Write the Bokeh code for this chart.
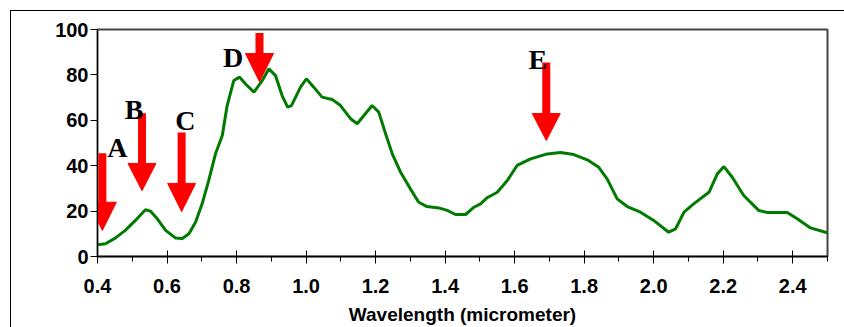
from bokeh.plotting import figure
from bokeh.models import Range1d, FixedTicker, NumeralTickFormatter
from bokeh.core.properties import value
from bokeh.embed import file_html
from bokeh.resources import INLINE

# spectral curve (wavelength in micrometer, percent)
wavelength = [0.400, 0.423, 0.452, 0.480, 0.509, 0.538, 0.552, 0.572, 0.596, 0.624,
              0.644, 0.663, 0.682, 0.701, 0.720, 0.740, 0.759, 0.773, 0.792, 0.809,
              0.826, 0.850, 0.874, 0.893, 0.912, 0.931, 0.947, 0.958, 0.984, 1.001,
              1.022, 1.046, 1.075, 1.099, 1.128, 1.147, 1.190, 1.209, 1.229, 1.248,
              1.272, 1.300, 1.324, 1.348, 1.382, 1.406, 1.430, 1.459, 1.483, 1.502,
              1.521, 1.550, 1.579, 1.607, 1.646, 1.694, 1.732, 1.770, 1.809, 1.842,
              1.866, 1.895, 1.924, 1.962, 2.000, 2.043, 2.063, 2.087, 2.115, 2.159,
              2.183, 2.202, 2.226, 2.259, 2.302, 2.327, 2.384, 2.413, 2.451, 2.494,
              2.500]
reflectance = [5.2, 5.6, 8.2, 11.5, 15.9, 20.6, 20.0, 16.6, 11.5, 8.2,
               7.9, 10.0, 15.1, 23.2, 33.5, 45.5, 53.3, 66.5, 77.5, 79.0,
               76.0, 72.4, 77.5, 82.7, 79.7, 70.9, 65.8, 66.5, 74.6, 78.3,
               74.6, 70.2, 69.2, 66.5, 60.7, 58.5, 66.5, 63.6, 54.0, 45.2,
               37.1, 29.8, 23.9, 22.0, 21.4, 20.3, 18.5, 18.5, 21.7, 23.2,
               25.9, 28.3, 33.5, 40.1, 43.0, 45.2, 45.8, 44.9, 42.6, 39.3,
               34.2, 25.4, 22.0, 19.5, 15.9, 10.7, 12.2, 19.5, 23.2, 28.3,
               36.4, 39.6, 34.9, 26.9, 20.3, 19.4, 19.4, 16.6, 12.6, 10.7,
               10.3]

# arrow annotations
arrow_x = [0.414, 0.528, 0.642, 0.866, 1.691]
arrow_top = [45.5, 63.1, 54.6, 98.5, 85.5]
arrow_base = [23.9, 41.0, 32.2, 89.4, 63.0]
arrow_tip = [11.5, 29.0, 19.8, 77.0, 51.1]

# letter labels
labels = ["A", "B", "C", "D", "E"]
label_x = [0.457, 0.505, 0.653, 0.790, 1.667]
label_y = [48.0, 64.6, 59.9, 87.5, 86.6]

x_ticks = [0.4, 0.6, 0.8, 1.0, 1.2, 1.4, 1.6, 1.8, 2.0, 2.2, 2.4]
x_minor = [0.5, 0.7, 0.9, 1.1, 1.3, 1.5, 1.7, 1.9, 2.1, 2.3, 2.5]
y_ticks = [0, 20, 40, 60, 80, 100]

FRAME_W, FRAME_H = 730, 227
X0, X1 = 0.4, 2.5
p = figure(frame_width=FRAME_W, frame_height=FRAME_H,
           min_border_left=97, min_border_right=17, min_border_top=29, min_border_bottom=71,
           x_range=Range1d(X0, X1), y_range=Range1d(0, 100),
           output_backend="svg", toolbar_location=None)
p.grid.visible = False
p.outline_line_color = "#444444"
p.outline_line_width = 2
p.background_fill_color = "white"
p.border_fill_color = None
# outer chart border (top and left edges visible in the window)
p.styles = {"background": "linear-gradient(#000, #000) 10px 10px / 1px 600px no-repeat, "
                          "linear-gradient(#000, #000) 10px 10px / 1200px 1px no-repeat, #ffffff"}

# curve
p.line(wavelength, reflectance, line_color="#007A00", line_width=3)

# arrows: shaft + triangular head
px_to_x = (X1 - X0) / FRAME_W
half_head = 14 * px_to_x
p.segment(x0=arrow_x, y0=arrow_top, x1=arrow_x, y1=[b - 1 for b in arrow_base],
          line_color="#FF0000", line_width=8, line_cap="butt")
head_xs = [[x - half_head, x + half_head, x] for x in arrow_x]
head_ys = [[b, b, t] for b, t in zip(arrow_base, arrow_tip)]
p.patches(head_xs, head_ys, fill_color="#FF0000", line_color="#FF0000", line_width=1)

# letters
p.text(x=label_x, y=label_y, text=labels, text_font=value("Liberation Serif"),
       text_font_style="bold", text_font_size="28px", text_color="black",
       text_align="center", text_baseline="alphabetic")

# axes
xa = p.xaxis[0]
xa.ticker = FixedTicker(ticks=x_ticks, minor_ticks=x_minor)
xa.formatter = NumeralTickFormatter(format="0.0")
xa.major_tick_in = 6
xa.major_tick_out = 7
xa.minor_tick_in = 0
xa.minor_tick_out = 5
xa.major_tick_line_color = "black"
xa.minor_tick_line_color = "black"
xa.major_label_standoff = 15
xa.axis_label = "Wavelength (micrometer)"
xa.axis_label_standoff = 8
xa.axis_label_text_font = "Liberation Sans"
xa.axis_label_text_font_style = "bold"
xa.axis_label_text_font_size = "19px"
xa.axis_label_text_color = "black"
xa.major_label_text_font = "Liberation Sans"
xa.major_label_text_font_style = "bold"
xa.major_label_text_font_size = "20px"
xa.major_label_text_color = "black"
xa.axis_line_color = "black"
xa.axis_line_width = 1.5

ya = p.yaxis[0]
ya.ticker = FixedTicker(ticks=y_ticks, minor_ticks=[])
ya.major_tick_in = 0
ya.major_tick_out = 7
ya.major_tick_line_color = "black"
ya.major_label_standoff = 2
ya.major_label_text_font = "Liberation Sans"
ya.major_label_text_font_style = "bold"
ya.major_label_text_font_size = "20px"
ya.major_label_text_color = "black"
ya.axis_line_color = "black"

open("out.html", "w").write(file_html(p, INLINE))
